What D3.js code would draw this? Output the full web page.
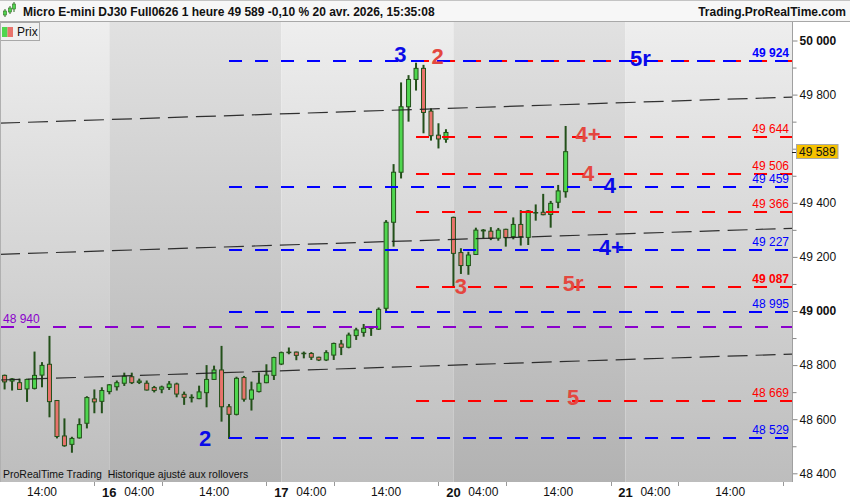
<!DOCTYPE html>
<html><head><meta charset="utf-8">
<script src="https://cdn.jsdelivr.net/npm/d3@7"></script>
<style>
body{margin:0;background:#fff;}
svg{display:block;font-family:"Liberation Sans",Arial,sans-serif;}
</style></head><body><svg id="c" width="850" height="500"></svg>
<script>
// ---------- DATA ----------
const titleText = "Micro E-mini DJ30 Full0626 1 heure 49 589 -0,10 % 20 avr. 2026, 15:35:08";
const siteText = "Trading.ProRealTime.com";
const footText = "ProRealTime Trading  Historique ajusté aux rollovers";
const legendText = "Prix";

// hourly candles, index 0..75
const openP  = [48762,48741,48735,48712,48714,48763,48803,48669,48538,48507,
                48531,48585,48675,48666,48702,48720,48733,48757,48736,48733,
                48717,48711,48717,48730,48692,48680,48676,48698,48747,48782,
                48646,48618,48754,48674,48702,48735,48762,48804,48846,48848,
                48842,48843,48829,48819,48837,48878,48866,48909,48921,48936,
                48933,49010,49328,49513,49755,49856,49897,49739,49650,49635,
                49346,49216,49168,49209,49296,49295,49269,49302,49275,49320,
                49272,49363,49365,49357,49402,49441];
const highP  = [48765,48752,48750,48750,48850,48811,48908,48671,48603,48535,
                48603,48685,48710,48718,48730,48743,48772,48772,48750,48743,
                48723,48724,48741,48735,48702,48692,48724,48800,48798,48871,
                48656,48757,48760,48739,48773,48803,48831,48850,48865,48850,
                48850,48848,48831,48855,48883,48893,48920,48938,48952,48942,
                49013,49336,49543,49845,49872,49918,49910,49749,49694,49672,
                49349,49232,49219,49308,49303,49310,49307,49304,49346,49373,
                49373,49394,49433,49407,49466,49684];
const lowP   = [48710,48706,48708,48664,48710,48718,48607,48529,48498,48476,
                48528,48566,48622,48622,48692,48706,48723,48730,48730,48706,
                48699,48696,48708,48681,48653,48662,48674,48644,48745,48591,
                48527,48614,48665,48632,48699,48733,48745,48800,48840,48818,
                48825,48819,48815,48815,48819,48837,48862,48893,48905,48908,
                48930,48998,49238,49490,49700,49815,49657,49630,49601,49622,
                49087,49137,49134,49207,49269,49262,49260,49238,49265,49242,
                49244,49334,49354,49308,49380,49419];
const closeP = [48738,48749,48710,48747,48762,48799,48665,48536,48502,48529,
                48580,48680,48664,48706,48727,48735,48759,48735,48741,48708,
                48706,48719,48730,48693,48681,48681,48701,48747,48782,48646,
                48618,48751,48674,48708,48733,48763,48828,48846,48848,48836,
                48844,48829,48819,48846,48880,48866,48911,48930,48936,48938,
                49006,49328,49513,49755,49856,49897,49734,49648,49636,49660,
                49213,49168,49207,49299,49299,49269,49299,49272,49320,49275,
                49370,49364,49356,49398,49444,49589];

// x axis
const dayLabels  = ["16","17","20","21"];
const dayIndex   = [14,37,60,83];
const hourLabels = ["14:00","04:00","14:00","04:00","14:00","04:00","14:00","04:00","14:00"];
const hourIndex  = [5,18,28,41,51,64,74,87,97];
const minorXTicks = [12,21,35,44,58,67,81,90,104];
const xDomain = [-0.615,105.26];

// y axis
const yDomain = [48400,50000];
const yLabelTicks = [50000,49800,49400,49200,49000,48800,48600,48400];
const yMajorTicks = [50000,49800,49600,49400,49200,49000,48800,48600,48400];
const yMinorTicks = [49900,49700,49500,49300,49100,48900,48700,48500];
const yBoldTicks  = [50000,49000];
const lastPrice = 49589;

// levels
const blueLevels   = [49924,49459,49227,48995,48529];
const redLevels    = [49924,49644,49506,49366,49087,48669];
const purpleLevels = [48940];
const boldLevels   = [49924,49087];
const blueStartIndex = 30;
const redStartIndex  = 55;

// trend channel: price at index 0 and index 100
const trendStart = [49695,49210,48745.5];
const trendEnd   = [49786,49301,48836];

// wave annotations
const blueMarks      = ["3","5r","4","4+","2"];
const blueMarkIndex  = [52.9,85.0,80.9,81.1,26.8];
const blueMarkPrice  = [49948,49933,49465,49235,48529];
const redMarks       = ["2","4+","4","3","5r","5"];
const redMarkIndex   = [57.9,78.0,78.0,61.0,76.0,76.0];
const redMarkPrice   = [49941,49654,49508,49089,49101,48682];

// ---------- LAYOUT ----------
const W=850,H=500, L=0, R=792, T=22, B=482;
const svg=d3.select("#c");
const x=d3.scaleLinear().domain(xDomain).range([L,R]);
const y=d3.scaleLinear().domain(yDomain).range([473.3,40.5]);
const fmt=v=>d3.format(",")(v).replace(/,/g," ");

const defs=svg.append("defs");
function grad(id,c1,c2){
  const g=defs.append("linearGradient").attr("id",id).attr("x1",0).attr("y1",0).attr("x2",0).attr("y2",1);
  g.append("stop").attr("offset","0%").attr("stop-color",c1);
  g.append("stop").attr("offset","100%").attr("stop-color",c2);
}
grad("gl","#eeeeee","#bdbdbd");
grad("gd","#e1e1e1","#b2b2b2");
defs.append("clipPath").attr("id","pc").append("rect").attr("x",L).attr("y",T).attr("width",R-L).attr("height",B-T);

svg.append("rect").attr("width",W).attr("height",H).attr("fill","#fff");

// background day bands
const bounds=[xDomain[0],...dayIndex,xDomain[1]];
const plot=svg.append("g").attr("clip-path","url(#pc)");
for(let k=0;k<bounds.length-1;k++){
  const x0=Math.max(L,x(bounds[k])), x1=Math.min(R,x(bounds[k+1]));
  plot.append("rect").attr("x",x0).attr("y",T).attr("width",x1-x0).attr("height",B-T)
    .attr("fill",k%2===1?"url(#gd)":"url(#gl)");
}

// candles
const idx=d3.range(openP.length);
const cg=plot.append("g");
const wickC="#23501a";
cg.selectAll(".w").data(idx).join("rect")
  .attr("x",i=>x(i)-1).attr("width",2)
  .attr("y",i=>y(highP[i])).attr("height",i=>Math.max(1,y(lowP[i])-y(highP[i])))
  .attr("fill",wickC);
cg.selectAll(".b").data(idx).join("rect")
  .attr("x",i=>x(i)-2).attr("width",4)
  .attr("y",i=>y(Math.max(openP[i],closeP[i])))
  .attr("height",i=>Math.max(0.5,Math.abs(y(openP[i])-y(closeP[i]))))
  .attr("fill",i=>closeP[i]>=openP[i]?"#4fd64f":"#e8736c")
  .attr("stroke",wickC).attr("stroke-width",1);

// trend channel lines
const lg=plot.append("g");
trendStart.forEach((p0,k)=>{
  const p1=trendEnd[k];
  const f=i=>p0+(p1-p0)*i/100;
  lg.append("line").attr("x1",x(xDomain[0])).attr("x2",x(xDomain[1]))
    .attr("y1",y(f(xDomain[0]))).attr("y2",y(f(xDomain[1])))
    .attr("stroke","#1e1e1e").attr("stroke-width",1.2).attr("stroke-dasharray","20,8").attr("opacity",0.9);
});

// level lines
function levels(arr,startX,color){
  arr.forEach(p=>{
    lg.append("line").attr("x1",startX).attr("x2",R).attr("y1",Math.round(y(p))).attr("y2",Math.round(y(p)))
      .attr("stroke",color).attr("stroke-width",2).attr("stroke-dasharray","13,13");
  });
}
levels(purpleLevels,1,"#8a00cc");
levels(redLevels,x(redStartIndex),"#ff0000");
levels(blueLevels,x(blueStartIndex),"#0000ff");

// level value labels
const tg=svg.append("g").attr("font-size","12px");
function vlabels(arr,color,skip){
  arr.filter(p=>!skip.includes(p)).forEach(p=>{
    tg.append("text").attr("x",789).attr("y",Math.round(y(p))-4).attr("text-anchor","end")
      .attr("fill",color).attr("font-weight",boldLevels.includes(p)?"bold":"normal").text(fmt(p));
  });
}
vlabels(redLevels,"#ff0000",blueLevels);
vlabels(blueLevels,"#0000ff",[]);
purpleLevels.forEach(p=>{
  tg.append("text").attr("x",3).attr("y",Math.round(y(p))-4).attr("fill","#8a00cc").text(fmt(p));
});

// wave marks
const mg=svg.append("g").attr("font-size","22px").attr("text-anchor","middle").attr("dominant-baseline","central").attr("font-weight","bold");
blueMarks.forEach((t,k)=>mg.append("text").attr("x",x(blueMarkIndex[k])).attr("y",y(blueMarkPrice[k]))
  .attr("fill","#0a0ae8").text(t));
redMarks.forEach((t,k)=>mg.append("text").attr("x",x(redMarkIndex[k])).attr("y",y(redMarkPrice[k]))
  .attr("fill","#e4473f").text(t));

// footer text inside plot
svg.append("text").attr("x",3).attr("y",478).attr("font-size","10.5px").attr("fill","#111")
  .attr("xml:space","preserve").style("white-space","pre").text(footText);

// right axis
svg.append("rect").attr("x",R).attr("y",T).attr("width",W-R).attr("height",B-T+18).attr("fill","#fff");
const ya=svg.append("g").attr("transform",`translate(${R+0.5},0)`);
ya.call(d3.axisRight(y).tickValues(yMajorTicks).tickSize(5).tickPadding(2)
  .tickFormat(v=>yLabelTicks.includes(v)?fmt(v):""));
ya.append("g").call(d3.axisRight(y).tickValues(yMinorTicks).tickSize(4).tickFormat(""));
ya.selectAll("path.domain").attr("stroke","#a0a0a0").attr("d",`M0,${T}V${B}`);
ya.selectAll("line").attr("stroke","#888");
ya.selectAll("text").attr("font-size","12px").attr("fill","#111")
  .attr("font-family","'Liberation Sans',Arial,sans-serif")
  .attr("font-weight",v=>yBoldTicks.includes(v)?"bold":"normal");

// last price box
const ly=y(lastPrice);
svg.append("line").attr("x1",R).attr("x2",R+4).attr("y1",Math.round(ly)+0.5).attr("y2",Math.round(ly)+0.5).attr("stroke","#222");
svg.append("rect").attr("x",796.5).attr("y",Math.round(ly)-7.5).attr("width",41.5).attr("height",14)
  .attr("fill","#f6c100").attr("stroke","#a8a8a8");
svg.append("text").attr("x",799).attr("y",Math.round(ly)+4).attr("font-size","12px").attr("fill","#111").text(fmt(lastPrice));

// x axis
svg.append("rect").attr("x",0).attr("y",B).attr("width",R).attr("height",H-B).attr("fill","#fff");
const xa=svg.append("g");
minorXTicks.forEach(i=>xa.append("line").attr("x1",Math.round(x(i))+0.5).attr("x2",Math.round(x(i))+0.5)
  .attr("y1",B).attr("y2",B+4).attr("stroke","#999"));
hourIndex.forEach((i,k)=>xa.append("text").attr("x",x(i)).attr("y",496).attr("text-anchor","middle")
  .attr("font-size","12px").attr("fill","#111").text(hourLabels[k]));
dayIndex.forEach((i,k)=>xa.append("text").attr("x",x(i)).attr("y",496.5).attr("text-anchor","middle")
  .attr("font-size","13px").attr("font-weight","bold").attr("fill","#111").text(dayLabels[k]));

// header
svg.append("rect").attr("x",0).attr("y",0).attr("width",W).attr("height",21).attr("fill","#f7f7f7");
svg.append("line").attr("x1",0).attr("x2",W).attr("y1",0.5).attr("y2",0.5).attr("stroke","#c4c4c4");
svg.append("line").attr("x1",0).attr("x2",W).attr("y1",21.5).attr("y2",21.5).attr("stroke","#a8a8a8");
const ic=svg.append("g");
[[5,9,17,11,15],[10,6,14,8,12],[14,2,12,4,9]].forEach(([cx,h,l,t,b])=>{
  ic.append("rect").attr("x",cx-0.5).attr("y",h).attr("width",1).attr("height",l-h).attr("fill","#2d6a1f");
  ic.append("rect").attr("x",cx-1.5).attr("y",t).attr("width",3).attr("height",b-t).attr("fill","#4fd64f").attr("stroke","#2d6a1f").attr("stroke-width",0.6);
});
svg.append("text").attr("x",23).attr("y",15.5).attr("font-size","12px").attr("font-weight","bold").attr("fill","#111").text(titleText);
svg.append("text").attr("x",846).attr("y",15.5).attr("text-anchor","end").attr("font-size","12px").attr("font-weight","bold").attr("fill","#111").text(siteText);

// legend box
svg.append("rect").attr("x",0.5).attr("y",22.5).attr("width",39).attr("height",18).attr("fill","#f0f0f0").attr("stroke","#a8a8a8");
svg.append("rect").attr("x",2).attr("y",27).attr("width",5.5).attr("height",10).attr("fill","#4fd64f");
svg.append("rect").attr("x",7.5).attr("y",27).attr("width",5.5).attr("height",10).attr("fill","#e8736c");
svg.append("text").attr("x",17).attr("y",36).attr("font-size","12px").attr("fill","#111").text(legendText);

// plot left border
svg.append("line").attr("x1",0.5).attr("x2",0.5).attr("y1",T).attr("y2",B).attr("stroke","#b0b0b0");
</script></body></html>
